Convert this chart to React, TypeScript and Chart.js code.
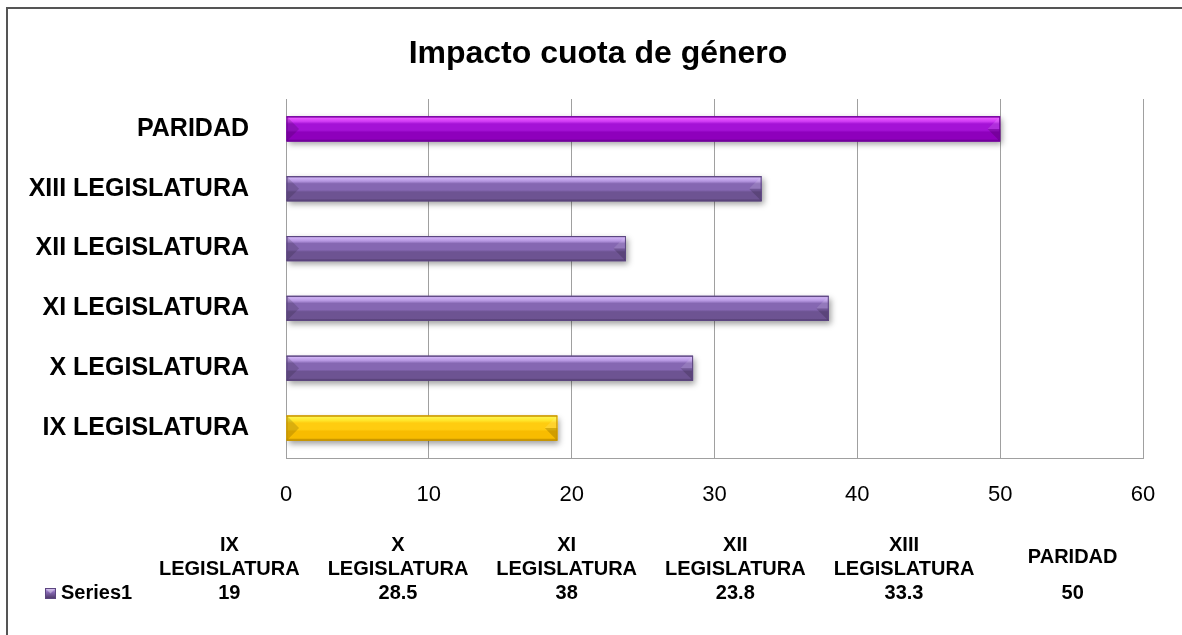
import React, { useEffect, useRef } from 'react';
import { Chart, registerables } from 'chart.js';

Chart.register(...registerables);

// ---------- data ----------
const chartTitle = 'Impacto cuota de género';
const seriesName = 'Series1';
const categories = [
  'IX LEGISLATURA',
  'X LEGISLATURA',
  'XI LEGISLATURA',
  'XII LEGISLATURA',
  'XIII LEGISLATURA',
  'PARIDAD',
];
const values = [19, 28.5, 38, 23.8, 33.3, 50];
const xTicks = [0, 10, 20, 30, 40, 50, 60];

// ---------- styles ----------
const FONT = "'Liberation Sans', Arial, Helvetica, sans-serif";
type Pal = { edge: string; hi: string; hi2: string; mid: string; low: string; dark: string };
const palette: Record<string, Pal> = {
  yellow: { edge: '#C89400', hi: '#FFF34A', hi2: '#FFE52A', mid: '#FFCC10', low: '#F8BC00', dark: '#A87E00' },
  purple: { edge: '#5C4680', hi: '#CFB2F4', hi2: '#B596E0', mid: '#8567B2', low: '#6D5392', dark: '#47345F' },
  magenta: { edge: '#74009C', hi: '#E858FF', hi2: '#D03CF4', mid: '#A412D6', low: '#8E00BC', dark: '#5E0086' },
};
const barStyles = ['yellow', 'purple', 'purple', 'purple', 'purple', 'magenta'];

const shadowPlugin = {
  id: 'barShadow',
  beforeDatasetsDraw(chart: any) {
    const c = chart.ctx;
    c.save();
    c.shadowColor = 'rgba(0,0,0,0.38)';
    c.shadowBlur = 6;
    c.shadowOffsetX = 2;
    c.shadowOffsetY = 3;
  },
  afterDatasetsDraw(chart: any) {
    const c = chart.ctx;
    c.restore();
    const meta = chart.getDatasetMeta(0);
    meta.data.forEach((el: any, i: number) => {
      const { x, y, base, height } = el.getProps(['x', 'y', 'base', 'height'], true);
      const p = palette[barStyles[i]];
      const x0 = Math.min(base, x);
      const x1 = Math.max(base, x);
      const y0 = y - height / 2;
      const y1 = y + height / 2;
      const g = c.createLinearGradient(0, y0, 0, y1);
      g.addColorStop(0, p.edge);
      g.addColorStop(0.07, p.hi);
      g.addColorStop(0.2, p.hi2);
      g.addColorStop(0.3, p.mid);
      g.addColorStop(0.55, p.mid);
      g.addColorStop(0.63, p.low);
      g.addColorStop(0.9, p.low);
      g.addColorStop(1, p.dark);
      c.save();
      c.fillStyle = g;
      c.fillRect(x0, y0, x1 - x0, y1 - y0);
      const b = Math.min(height / 2, (x1 - x0) / 2);
      c.beginPath();
      c.moveTo(x0, y0);
      c.lineTo(x0 + b, y);
      c.lineTo(x0, y1);
      c.closePath();
      c.fillStyle = 'rgba(0,0,0,0.14)';
      c.fill();
      c.beginPath();
      c.moveTo(x1, y0);
      c.lineTo(x1 - b, y);
      c.lineTo(x1, y);
      c.closePath();
      c.fillStyle = 'rgba(255,255,255,0.12)';
      c.fill();
      c.beginPath();
      c.moveTo(x1, y);
      c.lineTo(x1 - b, y);
      c.lineTo(x1, y1);
      c.closePath();
      c.fillStyle = 'rgba(0,0,0,0.16)';
      c.fill();
      c.strokeStyle = p.edge;
      c.lineWidth = 1;
      c.strokeRect(x0 + 0.5, y0 + 0.5, x1 - x0 - 1, y1 - y0 - 1);
      c.restore();
    });
  },
};

const tablePlugin = {
  id: 'dataTable',
  afterDraw(chart: any) {
    const c = chart.ctx;
    c.save();
    // title
    c.font = `bold 32px ${FONT}`;
    c.fillStyle = '#000';
    c.textAlign = 'center';
    c.textBaseline = 'middle';
    c.fillText(chartTitle, 598, 54);

    const left = 145;
    const right = 1157;
    const colW = (right - left) / categories.length;
    c.font = `bold 20px ${FONT}`;
    categories.forEach((cat, i) => {
      const cx = left + colW * (i + 0.5);
      const parts = cat.split(' ');
      if (parts.length > 1) {
        c.fillText(parts[0], cx, 545);
        c.fillText(parts.slice(1).join(' '), cx, 569);
      } else {
        c.fillText(cat, cx, 557);
      }
      c.fillText(String(values[i]), cx, 593);
    });
    // legend key
    const p = palette.purple;
    const kx = 45, ky = 588, ks = 11;
    const g = c.createLinearGradient(0, ky, 0, ky + ks);
    g.addColorStop(0, p.hi);
    g.addColorStop(0.4, p.mid);
    g.addColorStop(1, p.dark);
    c.fillStyle = g;
    c.fillRect(kx, ky, ks, ks);
    c.beginPath();
    c.moveTo(kx, ky);
    c.lineTo(kx + ks / 2, ky + ks / 2);
    c.lineTo(kx + ks, ky);
    c.closePath();
    c.fillStyle = 'rgba(255,255,255,0.35)';
    c.fill();
    c.strokeStyle = p.edge;
    c.lineWidth = 1;
    c.strokeRect(kx + 0.5, ky + 0.5, ks - 1, ks - 1);
    c.fillStyle = '#000';
    c.textAlign = 'left';
    c.fillText(seriesName, 61, 593);
    c.restore();
  },
};

export default function App() {
  const ref = useRef<HTMLCanvasElement | null>(null);

  useEffect(() => {
    if (!ref.current) return;
    const chart = new Chart(ref.current, {
      type: 'bar',
      data: {
        labels: categories,
        datasets: [
          {
            label: seriesName,
            data: values,
            backgroundColor: barStyles.map((k) => palette[k].mid),
            borderColor: barStyles.map((k) => palette[k].edge),
            borderWidth: 0,
            barPercentage: 0.42,
            categoryPercentage: 1,
          },
        ],
      },
      options: {
        indexAxis: 'y',
        animation: false,
        responsive: false,
        devicePixelRatio: 1,
        layout: { padding: { left: 0, right: 39, top: 99, bottom: 0 } },
        plugins: {
          legend: { display: false },
          tooltip: { enabled: false },
          title: { display: false },
        },
        scales: {
          x: {
            type: 'linear',
            min: 0,
            max: 60,
            afterBuildTicks: (s: any) => {
              s.ticks = xTicks.map((v) => ({ value: v }));
            },
            afterFit: (s: any) => {
              s.height = 177;
            },
            grid: { color: '#A0A0A0', lineWidth: 1, drawTicks: false },
            border: { display: true, color: '#A0A0A0', width: 1 },
            ticks: {
              color: '#000',
              font: { family: FONT, size: 22 },
              padding: 24,
              maxRotation: 0,
            },
          },
          y: {
            type: 'category',
            reverse: true,
            afterFit: (s: any) => {
              s.width = 286;
            },
            grid: { drawOnChartArea: false, drawTicks: false },
            border: { display: true, color: '#A0A0A0', width: 1 },
            ticks: {
              color: '#000',
              font: { family: FONT, size: 25, weight: 'bold' },
              padding: 37,
            },
          },
        },
      },
      plugins: [shadowPlugin, tablePlugin],
    } as any);
    return () => chart.destroy();
  }, []);

  return (
    <div style={{ position: 'absolute', left: 0, top: 0, width: 1182, height: 635, background: '#fff', overflow: 'hidden' }}>
      <div
        style={{
          position: 'absolute',
          left: 6,
          top: 7,
          width: 1200,
          height: 700,
          borderLeft: '2px solid #555',
          borderTop: '2px solid #555',
        }}
      />
      <canvas
        ref={ref}
        width={1182}
        height={635}
        style={{ position: 'absolute', left: 0, top: 0, width: 1182, height: 635 }}
      />
    </div>
  );
}
